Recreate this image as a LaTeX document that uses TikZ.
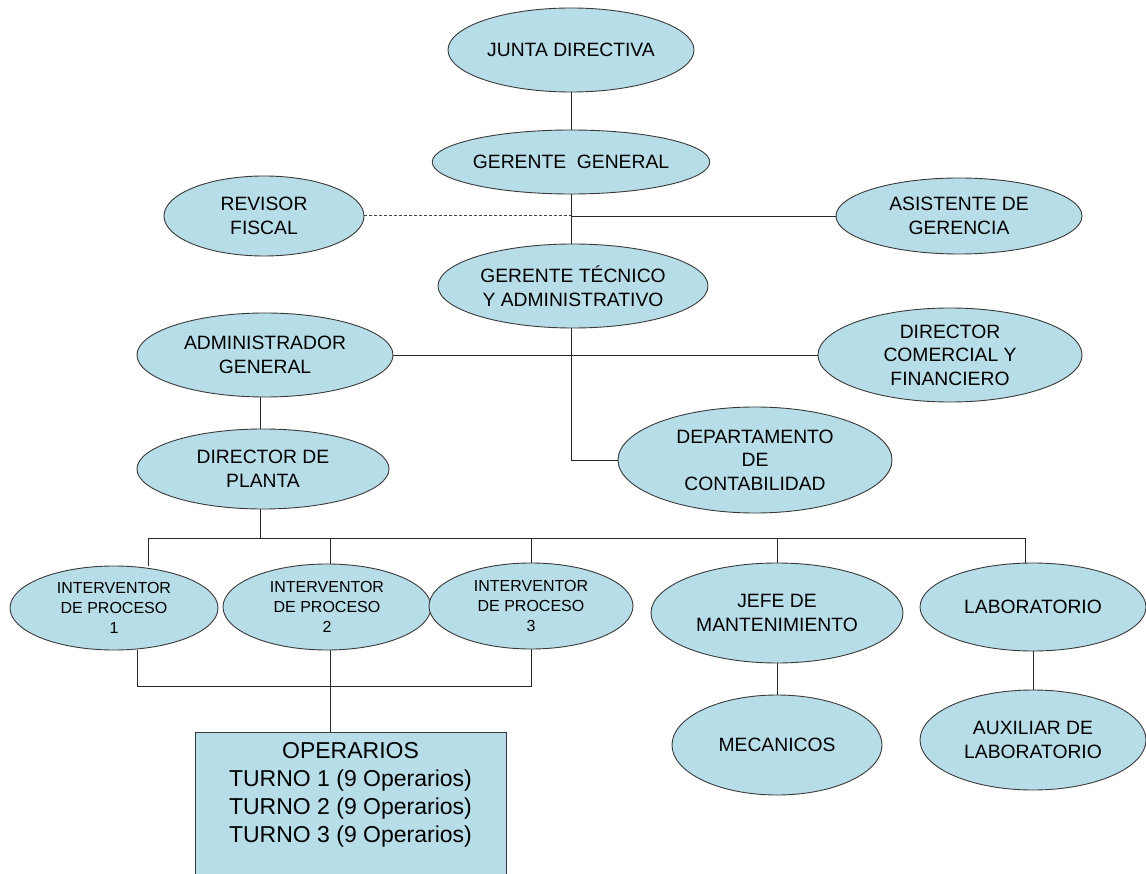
\documentclass[tikz,border=0pt]{standalone}
\usepackage{fontspec}
\setmainfont{Liberation Sans}
\usetikzlibrary{shapes.geometric,backgrounds}
\definecolor{aqua}{HTML}{B7DDE8}
\definecolor{edge}{HTML}{3A3A3A}
\begin{document}
\begin{tikzpicture}[x=1pt,y=-1pt,
  ov/.style={ellipse,draw=edge,line width=0.9pt,fill=aqua,inner sep=0pt,align=center,
    font=\fontsize{19.3}{23.5}\selectfont},
  ovs/.style={ov,font=\fontsize{16}{20}\selectfont},
  ln/.style={line width=0.9pt,draw=black!85}]
\useasboundingbox (0,0) rectangle (1146,874);
% nodes
\node[ov,minimum width=246,minimum height=84] (jd) at (571,50) {JUNTA DIRECTIVA};
\node[ov,minimum width=246,minimum height=64] (gg) at (571,162) {GERENTE \ GENERAL};
\node[ov,minimum width=200,minimum height=80] (rf) at (264,216) {REVISOR\\FISCAL};
\node[ov,minimum width=246,minimum height=76] (ag) at (959,216) {ASISTENTE DE\\GERENCIA};
\node[ov,minimum width=270,minimum height=84] (gt) at (573,286) {GERENTE TÉCNICO\\Y ADMINISTRATIVO};
\node[ov,minimum width=256,minimum height=84] (adm) at (265,355) {ADMINISTRADOR\\GENERAL};
\node[ov,minimum width=264,minimum height=94] (dcf) at (950,355) {DIRECTOR\\COMERCIAL Y\\FINANCIERO};
\node[ov,minimum width=274,minimum height=106] (dep) at (755,460) {DEPARTAMENTO\\DE\\CONTABILIDAD};
\node[ov,minimum width=252,minimum height=80] (dp) at (263,469) {DIRECTOR DE\\PLANTA};
\node[ovs,minimum width=208,minimum height=84] (i1) at (114,608) {INTERVENTOR\\DE PROCESO\\1};
\node[ovs,minimum width=208,minimum height=86] (i2) at (327,607) {INTERVENTOR\\DE PROCESO\\2};
\node[ovs,minimum width=204,minimum height=86] (i3) at (531,606) {INTERVENTOR\\DE PROCESO\\3};
\node[ov,minimum width=252,minimum height=100] (jm) at (777,613) {JEFE DE\\MANTENIMIENTO};
\node[ov,minimum width=226,minimum height=88] (lab) at (1033,607) {LABORATORIO};
\node[ov,minimum width=210,minimum height=100] (mec) at (777,745) {MECANICOS};
\node[ov,minimum width=226,minimum height=100] (aux) at (1033,740) {AUXILIAR DE\\LABORATORIO};
\node[rectangle,draw=edge,line width=0.9pt,fill=aqua,minimum width=311,minimum height=148,
  inner sep=0pt,align=center,font=\fontsize{23}{28}\selectfont] (ops) at (350.5,806)
  {OPERARIOS\\TURNO 1 (9 Operarios)\\TURNO 2 (9 Operarios)\\TURNO 3 (9 Operarios)\\ };
% junction coordinates
\coordinate (j1) at (571,216);
\coordinate (bus) at (260,538);
\coordinate (b1) at (148,538);
\coordinate (b2) at (330,538);
\coordinate (b3) at (531,538);
\coordinate (b4) at (777,538);
\coordinate (b5) at (1025,538);
\coordinate (c1) at (137,686);
\coordinate (c2) at (330,686);
\coordinate (c3) at (531,686);
% connectors
\begin{scope}[on background layer]
\fill[white] (0,0) rectangle (1146,874);
\draw[ln] (jd) -- (gg);
\draw[ln] (gg.south) -- (gg.south |- gt.north);
\draw[ln,dashed,dash pattern=on 3pt off 2pt,line width=1pt,draw=black!75] (rf.east) -- (j1);
\draw[ln] (j1) -- (ag);
\draw[ln] (adm) -- (dcf);
\draw[ln] (gt.south -| j1) |- (dep);
\draw[ln] (adm.south -| bus) -- (dp.north -| bus);
\draw[ln] (dp.south -| bus) -- (bus);
\draw[ln] (b1) -- (b5);
\draw[ln] (b1) -- (b1 |- i1.north);
\draw[ln] (b2) -- (b2 |- i2.north);
\draw[ln] (b3) -- (i3.north);
\draw[ln] (b4) -- (jm.north);
\draw[ln] (b5) -- (b5 |- lab.north);
\draw[ln] (c1 |- i1.south) -- (c1) -- (c3) -- (i3.south);
\draw[ln] (c2 |- i2.south) -- (c2 |- ops.north);
\draw[ln] (jm) -- (mec);
\draw[ln] (lab) -- (aux);
\end{scope}
\end{tikzpicture}
\end{document}
